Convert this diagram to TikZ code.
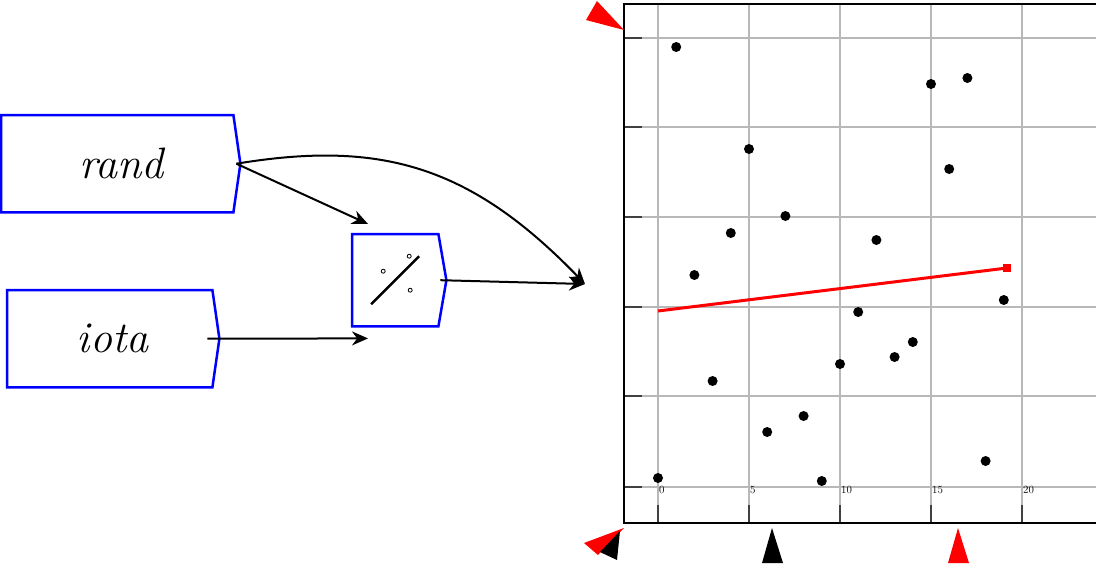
\documentclass[tikz,border=0pt]{standalone}
\usetikzlibrary{arrows.meta,positioning,calc}
\begin{document}
\begin{tikzpicture}[x=1pt,y=-1pt,
  box/.style={inner sep=0pt, minimum width=#1, minimum height=97pt},
  outline/.style={draw=blue, line width=2.5pt},
  link/.style={line width=2pt, -{Stealth[length=16pt,width=14pt]}},
  grid line/.style={draw=black!28, line width=2pt},
  tick/.style={draw=black!75, line width=2.5pt},
  dot/.style={circle, fill=black, inner sep=0pt, minimum size=10pt}]
%
\useasboundingbox (0,0) rectangle (1096,563);
%
% function boxes
\node[box=232pt, anchor=north west, font=\itshape\fontsize{44}{44}\selectfont] (rand) at (1,115) {\hspace*{8pt}rand\hfill};
\node[box=205pt, anchor=north west, font=\itshape\fontsize{44}{44}\selectfont] (iota) at (7,290) {\hspace*{6pt}iota\hfill};
\node[box=86pt, minimum height=92pt, anchor=north west] (div) at (352,234) {};
\foreach \n/\d in {rand/7,iota/7,div/8}
  \draw[outline] (\n.north west) -- (\n.north east) -- ([xshift=\d pt]\n.east) -- (\n.south east) -- (\n.south west) -- cycle;
% divide glyph
\draw[line width=2.5pt] ($(div.center)+(-24,24)$) -- ($(div.center)+(24,-24)$);
\foreach \a/\b in {-12/-9,14/-24,15/10} \draw[line width=0.8pt] ($(div.center)+(\a,\b)$) circle (2pt);
%
% plot
\coordinate (plot in) at (585,284);
\foreach \x in {658,749,840,931,1022} {
  \draw[grid line] (\x,4) -- (\x,523);
  \draw[tick] (\x,505) -- (\x,523); }
\foreach \y in {38,127,217,307,396,487} {
  \draw[grid line] (624,\y) -- (1096,\y);
  \draw[tick] (624,\y) -- (642,\y); }
\foreach \v [count=\i from 0] in {0,5,10,15,20}
  \node[font=\fontsize{11}{11}\selectfont, anchor=north west, inner sep=1pt] (xl\i) at (658+91*\i,485) {\v};
\draw[line width=2pt] (624,4) rectangle (1097,523);
\foreach \y [count=\i from 0] in {478,47,275,381,233,149,432,216,416,481,364,312,240,357,342,84,169,78,461,300}
  \node[dot] (p\i) at (658+18.2*\i,\y) {};
\draw[red, line width=3pt] (658,311) -- (1007,268);
\fill[red] (1003,264) rectangle (1011,272);
%
% markers
\fill[red] (586,20) -- (597,1) -- (624,30) -- cycle;
\fill[red] (584,543) -- (598,555) -- (624,528) -- cycle;
\fill[black] (600,552) -- (617,560) -- (620,531) -- cycle;
\fill[black] (772,528) -- (762,563) -- (783,563) -- cycle;
\fill[red] (958,528) -- (948,563) -- (969,563) -- cycle;
%
% connectors
\draw[link] ([xshift=3pt]rand.east) .. controls (380,140) and (470,165) .. (plot in);
\draw[link] ([xshift=3pt]rand.east) -- ([xshift=16pt,yshift=10pt]div.north west);
\draw[link] ([xshift=-5pt]iota.east) -- ([xshift=16pt,yshift=-12pt]div.south west);
\draw[link] ([xshift=2pt]div.east) -- (plot in);
\end{tikzpicture}
\end{document}
